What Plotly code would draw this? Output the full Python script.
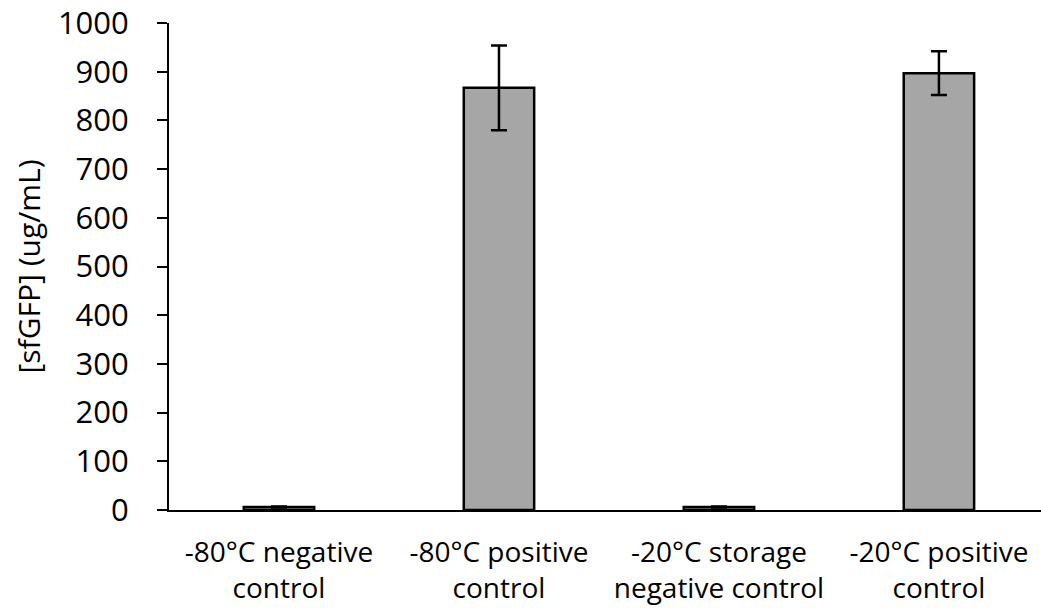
import plotly.graph_objects as go

categories = ["-80°C negative<br>control", "-80°C positive<br>control",
              "-20°C storage<br>negative control", "-20°C positive<br>control"]
values = [6, 867, 6, 897]
errors = [1, 87, 1, 45]
y_ticks = [0, 100, 200, 300, 400, 500, 600, 700, 800, 900, 1000]

font_family = "Open Sans"

fig = go.Figure()
fig.add_trace(go.Bar(
    x=list(range(len(categories))),
    y=values,
    width=0.32,
    marker=dict(color="#a6a6a6", line=dict(color="black", width=2.5)),
    error_y=dict(type="data", array=errors, visible=True, color="black",
                 thickness=2.5, width=8),
))

fig.update_layout(
    width=1041, height=609,
    margin=dict(l=169, r=0, t=23, b=99),
    plot_bgcolor="white", paper_bgcolor="white",
    showlegend=False,
    font=dict(family=font_family, color="black", size=29),
    xaxis=dict(
        range=[-0.5, 3.464],
        tickmode="array",
        tickvals=list(range(len(categories))),
        ticktext=categories,
        showline=True, linecolor="black", linewidth=2,
        ticks="", showgrid=False, zeroline=False,
        ticklabelstandoff=16,
        tickfont=dict(size=28),
    ),
    yaxis=dict(
        range=[0, 1000],
        tickmode="array",
        tickvals=y_ticks,
        ticktext=[str(v) for v in y_ticks],
        showline=True, linecolor="black", linewidth=2,
        ticks="outside", ticklen=10, tickwidth=2, tickcolor="black",
        ticklabelstandoff=22,
        showgrid=False, zeroline=False,
        tickfont=dict(size=31),
        title=dict(text="[sfGFP] (ug/mL)", font=dict(size=30), standoff=8),
    ),
)

fig.write_html("out.html")
